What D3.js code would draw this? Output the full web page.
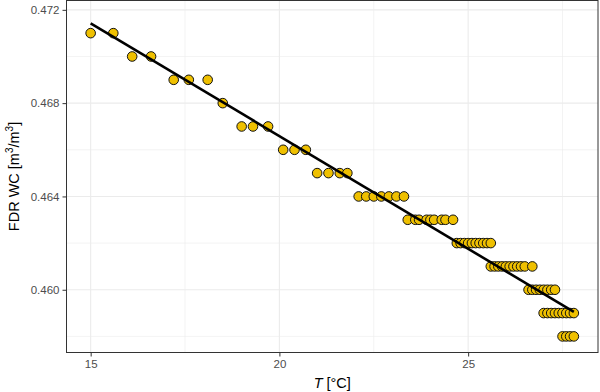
<!DOCTYPE html>
<html>
<head>
<meta charset="utf-8">
<script src="https://cdn.jsdelivr.net/npm/d3@7"></script>
<style>
  html, body { margin: 0; padding: 0; background: #fff; }
  svg { display: block; font-family: "Liberation Sans", Arial, sans-serif; }
  .tick text { fill: #4d4d4d; font-size: 11.5px; }
  .tick line { stroke: #333; }
</style>
</head>
<body>
<svg id="chart"></svg>
<script>
// FDR water content vs temperature, one point per reading
const temperature = [
  15.0, 15.6,
  16.1, 16.6,
  17.2, 17.6, 18.1,
  18.5,
  19.0, 19.3, 19.7,
  20.1, 20.4, 20.7,
  21.0, 21.3, 21.6, 21.8,
  22.1, 22.3, 22.5, 22.7, 22.9, 23.1, 23.3,
  23.4, 23.6, 23.7, 23.9, 24.0, 24.1, 24.3, 24.4, 24.6,
  24.7, 24.8, 24.9, 25.0, 25.1, 25.2, 25.3, 25.4, 25.5, 25.6,
  25.6, 25.7, 25.8, 25.9, 26.0, 26.1, 26.2, 26.3, 26.4, 26.5, 26.7,
  26.6, 26.7, 26.8, 26.9, 27.0, 27.1, 27.2, 27.3,
  27.0, 27.1, 27.2, 27.3, 27.4, 27.5, 27.6, 27.7, 27.8,
  27.5, 27.6, 27.7, 27.8
];
const waterContent = [
  0.471, 0.471,
  0.470, 0.470,
  0.469, 0.469, 0.469,
  0.468,
  0.467, 0.467, 0.467,
  0.466, 0.466, 0.466,
  0.465, 0.465, 0.465, 0.465,
  0.464, 0.464, 0.464, 0.464, 0.464, 0.464, 0.464,
  0.463, 0.463, 0.463, 0.463, 0.463, 0.463, 0.463, 0.463, 0.463,
  0.462, 0.462, 0.462, 0.462, 0.462, 0.462, 0.462, 0.462, 0.462, 0.462,
  0.461, 0.461, 0.461, 0.461, 0.461, 0.461, 0.461, 0.461, 0.461, 0.461, 0.461,
  0.460, 0.460, 0.460, 0.460, 0.460, 0.460, 0.460, 0.460,
  0.459, 0.459, 0.459, 0.459, 0.459, 0.459, 0.459, 0.459, 0.459,
  0.458, 0.458, 0.458, 0.458
];
const xTicks      = [15, 20, 25];
const xMinorTicks = [17.5, 22.5, 27.5];
const yTicks      = [0.460, 0.464, 0.468, 0.472];
const yMinorTicks = [0.458, 0.462, 0.466, 0.470];

const W = 600, H = 392;
const margin = { top: 0.5, right: 2, bottom: 39.5, left: 66.5 };
const width  = W - margin.left - margin.right;
const height = H - margin.top - margin.bottom;

const svg = d3.select("#chart").attr("width", W).attr("height", H);
const g = svg.append("g").attr("transform", `translate(${margin.left},${margin.top})`);

const points = temperature.map((t, i) => ({ t, w: waterContent[i] }));

const x = d3.scaleLinear().domain([14.36, 28.44]).range([0, width]);
const y = d3.scaleLinear().domain([0.45731, 0.4724]).range([height, 0]);

// linear fit (lm) over the data range
const mx = d3.mean(points, d => d.t), my = d3.mean(points, d => d.w);
const sxx = d3.sum(points, d => (d.t - mx) ** 2);
const sxy = d3.sum(points, d => (d.t - mx) * (d.w - my));
const slope = sxy / sxx, icpt = my - slope * mx;
const fit = d3.extent(temperature).map(t => ({ t, w: icpt + slope * t }));

// grid
g.selectAll("line.minor-x").data(xMinorTicks).join("line").attr("class", "minor-x")
  .attr("x1", d => x(d)).attr("x2", d => x(d)).attr("y1", 0).attr("y2", height)
  .attr("stroke", "#ebebeb").attr("stroke-width", 0.6);
g.selectAll("line.minor-y").data(yMinorTicks).join("line").attr("class", "minor-y")
  .attr("y1", d => y(d)).attr("y2", d => y(d)).attr("x1", 0).attr("x2", width)
  .attr("stroke", "#ebebeb").attr("stroke-width", 0.6);
g.selectAll("line.major-x").data(xTicks).join("line").attr("class", "major-x")
  .attr("x1", d => x(d)).attr("x2", d => x(d)).attr("y1", 0).attr("y2", height)
  .attr("stroke", "#ebebeb").attr("stroke-width", 1.1);
g.selectAll("line.major-y").data(yTicks).join("line").attr("class", "major-y")
  .attr("y1", d => y(d)).attr("y2", d => y(d)).attr("x1", 0).attr("x2", width)
  .attr("stroke", "#ebebeb").attr("stroke-width", 1.1);

// points
g.selectAll("circle.pt").data(points).join("circle").attr("class", "pt")
  .attr("cx", d => x(d.t)).attr("cy", d => y(d.w)).attr("r", 4.8)
  .attr("fill", "#EFC000").attr("stroke", "#111").attr("stroke-width", 1);

// fit line
g.append("path").datum(fit)
  .attr("d", d3.line().x(d => x(d.t)).y(d => y(d.w)))
  .attr("fill", "none").attr("stroke", "#000").attr("stroke-width", 2.6);

// panel border
g.append("rect").attr("width", width).attr("height", height)
  .attr("fill", "none").attr("stroke", "#333").attr("stroke-width", 1);

// axes
g.append("g").attr("transform", `translate(0,${height})`)
  .call(d3.axisBottom(x).tickValues(xTicks).tickSize(4).tickPadding(3).tickFormat(d3.format("d")))
  .call(a => a.select(".domain").remove());
g.append("g")
  .call(d3.axisLeft(y).tickValues(yTicks).tickSize(4).tickPadding(3).tickFormat(d3.format(".3f")))
  .call(a => a.select(".domain").remove());

// axis titles
const xt = svg.append("text").attr("x", margin.left + width / 2).attr("y", 388)
  .attr("text-anchor", "middle").attr("font-size", 14.5).attr("fill", "#000");
xt.append("tspan").attr("font-style", "italic").text("T");
xt.append("tspan").text(" [°C]");

const yt = svg.append("text")
  .attr("transform", `translate(19,${margin.top + height / 2}) rotate(-90)`)
  .attr("text-anchor", "middle").attr("font-size", 14.5).attr("fill", "#000");
yt.append("tspan").text("FDR WC [m");
yt.append("tspan").attr("font-size", 10).attr("dy", -6).text("3");
yt.append("tspan").attr("dy", 6).text("/m");
yt.append("tspan").attr("font-size", 10).attr("dy", -6).text("3");
yt.append("tspan").attr("dy", 6).text("]");
</script>
</body>
</html>
